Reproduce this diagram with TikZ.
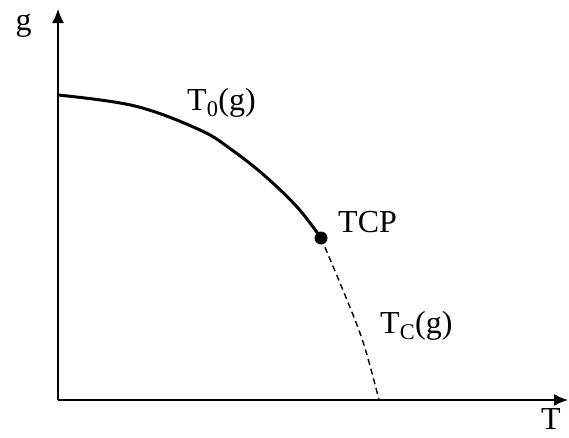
\documentclass[tikz,border=0pt]{standalone}
\usepackage{fontspec}
\setmainfont{Liberation Serif}
\usetikzlibrary{arrows.meta}
\newcommand{\biglab}{\fontsize{32pt}{34pt}\selectfont}
\begin{document}
\begin{tikzpicture}[x=1pt,y=-1pt,
  axis/.style={line width=1.5pt,-{Latex[length=14pt,width=12pt]}},
  lab/.style={font=\biglab,inner sep=0pt}]
\useasboundingbox (0,0) rectangle (569,437);
\coordinate (O) at (58,400);
\coordinate (Y) at (58,9);
\coordinate (X) at (568,400);
\draw[axis] (O) -- (Y);
\draw[axis] (O) -- (X);
\coordinate (tcp) at (321,238);
\draw[line width=3pt] plot[smooth,tension=0.6] coordinates {(58,95) (135,106) (200,130) (232,150) (265,176) (298,208) (tcp)};
\draw[line width=1.4pt,dash pattern=on 6pt off 4pt] plot[smooth,tension=0.6] coordinates {(tcp) (347,300) (364,345) (379,400)};
\fill (tcp) circle (6.5pt);
\node[lab,anchor=base] (g) at (23.5,30) {g};
\node[lab,anchor=base] (T) at (551,429) {T};
\node[lab,anchor=base west] (T0) at (187,110) {T\textsubscript{0}(g)};
\node[lab,anchor=base west] (tcpl) at (338,232) {TCP};
\node[lab,anchor=base west] (Tc) at (380,333) {T\textsubscript{C}(g)};
\end{tikzpicture}
\end{document}
